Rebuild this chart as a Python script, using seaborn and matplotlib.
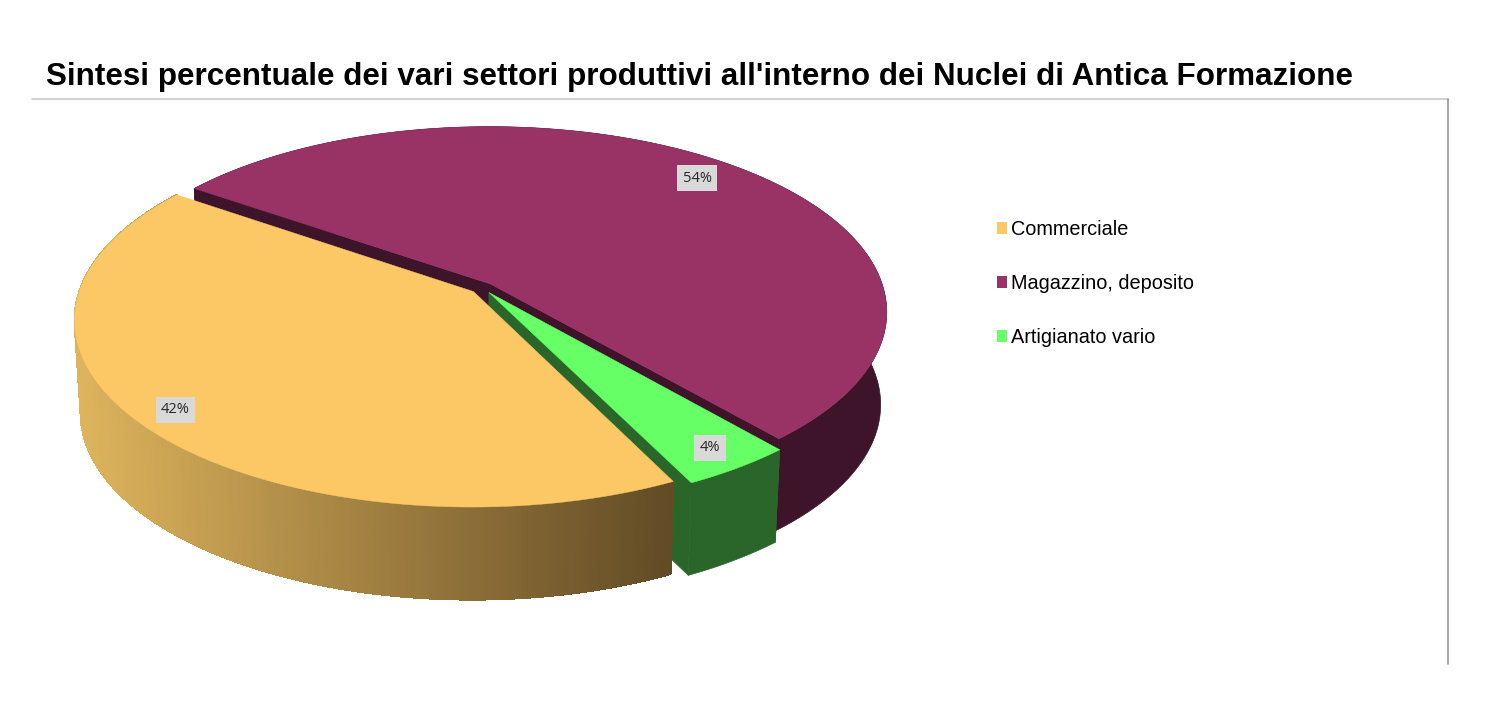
import numpy as np
import matplotlib
matplotlib.use("Agg")
import matplotlib.pyplot as plt
from matplotlib.patches import Patch
import seaborn as sns

# ---- data ----
TITLE = "Sintesi percentuale dei vari settori produttivi all'interno dei Nuclei di Antica Formazione"
categories = ["Commerciale", "Magazzino, deposito", "Artigianato vario"]
values = [42, 54, 4]
labels = ["42%", "54%", "4%"]

# ---- style ----
top_colors = ["#FBC865", "#993366", "#66FF66"]
wall_colors = ["#DDB35C", "#3E142B", "#2A6629"]
orange_dark = "#624B25"
label_radius = [0.905, 0.865, 0.90]
START = 296.2          # clockwise from here, degrees
EXPLODE = 0.03
CX, CY, RX, RY, PERSP = 482.5, 288.0, 393.0, 182.0, 0.15
DEPTH, SHRINK = 92.5, 0.985

sns.set_theme(style="white")
plt.rcParams["font.family"] = ["Liberation Sans", "DejaVu Sans"]

fig = plt.figure(figsize=(15.03, 7.10), dpi=100, facecolor="white")
ax = fig.add_axes([0, 0, 1, 1])
ax.set_xlim(0, 1503)
ax.set_ylim(710, 0)
ax.axis("off")


def project(u, v, lower=False):
    """Disc coordinates -> perspective picture coordinates."""
    w = 1 + PERSP * np.asarray(v)
    x = CX + RX * np.asarray(u) / w
    y = CY - RY * np.asarray(v) / w
    if lower:
        x = CX + (x - CX) * SHRINK
        y = y + DEPTH
    return x, y


def slice_geometry(a1, a2):
    mid = np.radians((a1 + a2) / 2)
    ou, ov = EXPLODE * np.cos(mid), EXPLODE * np.sin(mid)
    th = np.radians(np.linspace(a1, a2, 240))
    return ou, ov, ou + np.cos(th), ov + np.sin(th)


fractions = np.array(values, dtype=float) / np.sum(values)
edges = START - 360 * np.concatenate([[0], np.cumsum(fractions)])
gradient = sns.blend_palette([wall_colors[0], orange_dark], 256)


def draw_slice(i):
    ou, ov, us, vs = slice_geometry(edges[i], edges[i + 1])
    xt, yt = project(us, vs)
    xb, yb = project(us, vs, lower=True)
    ax0, ay0 = project(ou, ov)
    bx0, by0 = project(ou, ov, lower=True)
    if i != 0:
        for k in (0, -1):
            ax.fill([ax0, xt[k], xb[k], bx0], [ay0, yt[k], yb[k], by0],
                    color=wall_colors[i], lw=0.5, zorder=2 + i)
        ax.fill(np.r_[xt, xb[::-1]], np.r_[yt, yb[::-1]],
                color=wall_colors[i], lw=0.5, zorder=2 + i)
    else:
        lo, hi = 78.0, 668.0
        for k in range(len(xt) - 1):
            t = np.clip(((xt[k] + xt[k + 1]) / 2 - lo) / (hi - lo), 0, 1)
            c = gradient[int(t * 255)]
            ax.fill([xt[k], xt[k + 1], xb[k + 1], xb[k]],
                    [yt[k], yt[k + 1], yb[k + 1], yb[k]],
                    color=c, lw=0.8, antialiased=False, zorder=6)
    z = {0: 7, 1: 3, 2: 5}[i]
    ax.fill(np.r_[ax0, xt], np.r_[ay0, yt], color=top_colors[i], lw=0.3, zorder=z)
    # percentage label
    am = np.radians((edges[i] + edges[i + 1]) / 2)
    lx, ly = project(ou + label_radius[i] * np.cos(am), ov + label_radius[i] * np.sin(am))
    ax.text(lx, ly, labels[i], ha="center", va="center", fontsize=10.5,
            family="Open Sans", color="#262626", zorder=10,
            bbox=dict(boxstyle="square,pad=0.38", fc="#D9D9D9", ec="none"))


for idx in (1, 2, 0):
    draw_slice(idx)

# frame lines
ax.plot([32, 1448], [99, 99], color="#C4C4C4", lw=1.1, zorder=1)
ax.plot([1448, 1448], [99, 664], color="#8E8E8E", lw=1.1, zorder=1)

# title
ax.text(46, 77, TITLE, fontsize=22.6, fontweight="bold", color="black",
        ha="left", va="center")

# legend
handles = [Patch(facecolor=c, edgecolor="none") for c in top_colors]
ax.legend(handles, categories, loc="upper left", bbox_to_anchor=(997 / 1503, 1 - 220 / 710),
          frameon=False, fontsize=14.3, labelspacing=1.76, handlelength=0.5,
          handleheight=0.5, handletextpad=0.2, borderaxespad=0, borderpad=0,
          labelcolor="black")

fig.savefig("out.png", dpi=100, facecolor="white")
